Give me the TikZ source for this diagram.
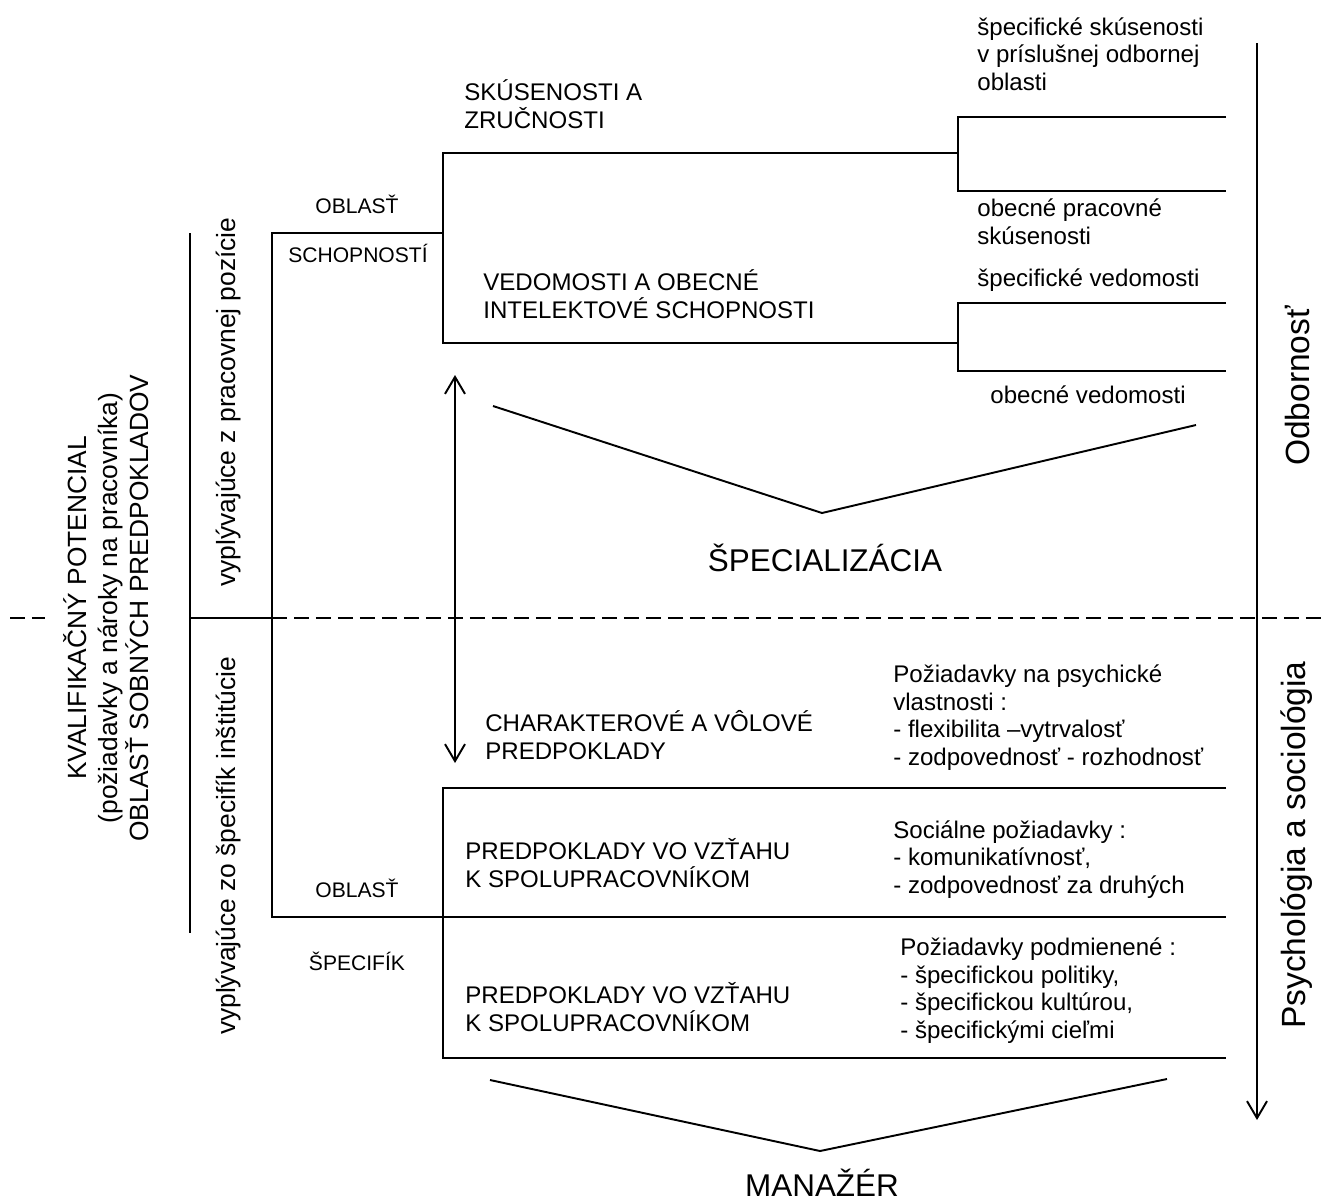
\documentclass[tikz,border=0pt]{standalone}
\usepackage{fontspec}
\setmainfont{Liberation Sans}
\usepackage{tikz}
\usetikzlibrary{arrows.meta}
\newcommand{\FontM}{\fontsize{13.7}{15.65}\selectfont}
\newcommand{\FontS}{\fontsize{12}{14}\selectfont}
\newcommand{\FontL}{\fontsize{15}{17.6}\selectfont}
\newcommand{\FontXL}{\fontsize{17.9}{21}\selectfont}
\newcommand{\FontXXL}{\fontsize{19.1}{22}\selectfont}
\tikzstyle{Edge}=[draw=black,line width=1.1pt]
\tikzstyle{EdgeDash}=[Edge,dash pattern=on 0.3cm off 0.14cm]
\tikzstyle{EdgeArrow}=[Edge,-{Straight Barb[length=0.34cm,width=0.4cm]}]
\tikzstyle{EdgeBoth}=[Edge,{Straight Barb[length=0.34cm,width=0.4cm]}-{Straight Barb[length=0.34cm,width=0.4cm]}]
\tikzstyle{NodeT}=[anchor=base west,inner sep=0pt,align=left,font=\FontM]
\tikzstyle{NodeS}=[anchor=base,inner sep=0pt,font=\FontS]
\tikzstyle{NodeV}=[rotate=90,inner sep=0pt,align=center,font=\FontL]
\tikzstyle{NodeXL}=[anchor=base,inner sep=0pt,font=\FontXL]

\begin{document}
\begin{tikzpicture}[x=0.02cm,y=-0.02cm]
            \useasboundingbox(0,0)rectangle(1324,1200);
            % corners of the brackets
            \coordinate(a1)at(272,233);
            \coordinate(a2)at(443,233);
            \coordinate(a3)at(272,917);
            \coordinate(u1)at(443,153);
            \coordinate(u2)at(443,343);
            \coordinate(u3)at(958,153);
            \coordinate(u4)at(958,343);
            \coordinate(r1)at(958,117);
            \coordinate(r2)at(958,191);
            \coordinate(r1e)at(1226,117);
            \coordinate(r2e)at(1226,191);
            \coordinate(r3)at(958,303);
            \coordinate(r4)at(958,371);
            \coordinate(r3e)at(1226,303);
            \coordinate(r4e)at(1226,371);
            \coordinate(l1)at(443,788);
            \coordinate(l1e)at(1226,788);
            \coordinate(l2e)at(1226,917);
            \coordinate(l3)at(443,1058);
            \coordinate(l3e)at(1226,1058);
            % side lines and arrows
            \coordinate(s1)at(190,233);
            \coordinate(s2)at(190,933);
            \coordinate(d0)at(10,618);
            \coordinate(d1)at(45,618);
            \coordinate(d2)at(190,618);
            \coordinate(d3)at(272,618);
            \coordinate(d4)at(1324,618);
            \coordinate(m1)at(455,375);
            \coordinate(m2)at(455,763);
            \coordinate(o1)at(1257,43);
            \coordinate(o2)at(1257,1120);
            \coordinate(v1)at(493,406);
            \coordinate(v2)at(822,513);
            \coordinate(v3)at(1196,425);
            \coordinate(w1)at(490,1080);
            \coordinate(w2)at(820,1151);
            \coordinate(w3)at(1167,1079);
            %
            \node[NodeT](sk)at(464,128){SKÚSENOSTI A\\ZRUČNOSTI};
            \node[NodeT](ve)at(483,318){VEDOMOSTI A OBECNÉ\\INTELEKTOVÉ SCHOPNOSTI};
            \node[NodeS](ob1)at(357,213){OBLASŤ};
            \node[NodeS](sch)at(358,262){SCHOPNOSTÍ};
            \node[NodeT](ss)at(977,90){špecifické skúsenosti\\v príslušnej odbornej\\oblasti};
            \node[NodeT](ops)at(977,244){obecné pracovné\\skúsenosti};
            \node[NodeT](sv)at(977,286){špecifické vedomosti};
            \node[NodeT](ov)at(990,403){obecné vedomosti};
            \node[NodeXL](spec)at(825,571){ŠPECIALIZÁCIA};
            \node[NodeT](ch)at(485,759){CHARAKTEROVÉ A VÔLOVÉ\\PREDPOKLADY};
            \node[NodeT](pp)at(893,765){Požiadavky na psychické\\vlastnosti :\\- flexibilita –vytrvalosť\\- zodpovednosť - rozhodnosť};
            \node[NodeT](pv1)at(465,887){PREDPOKLADY VO VZŤAHU\\K SPOLUPRACOVNÍKOM};
            \node[NodeT](sp)at(893,893){Sociálne požiadavky :\\- komunikatívnosť,\\- zodpovednosť za druhých};
            \node[NodeS](ob2)at(357,897){OBLASŤ};
            \node[NodeS](sf)at(357,970){ŠPECIFÍK};
            \node[NodeT](pv2)at(465,1031){PREDPOKLADY VO VZŤAHU\\K SPOLUPRACOVNÍKOM};
            \node[NodeT](pd)at(900,1038){Požiadavky podmienené :\\- špecifickou politiky,\\- špecifickou kultúrou,\\- špecifickými cieľmi};
            \node[NodeXL](man)at(822,1196){MANAŽÉR};
            \node[NodeV,font=\FontL](kv)at(106,608)
                {KVALIFIKAČNÝ POTENCIAL\\(požiadavky a nároky na pracovníka)\\OBLASŤ SOBNÝCH PREDPOKLADOV};
            \node[NodeV](vp)at(229,402){vyplývajúce z pracovnej pozície};
            \node[NodeV](vi)at(229,846){vyplývajúce zo špecifík inštitúcie};
            \node[NodeV,font=\FontXXL](odb)at(1297,386){Odbornosť};
            \node[NodeV,font=\FontXXL](ps)at(1297,845){Psychológia a sociológia};
            %
            \draw[Edge](a2)--(a1)--(a3)--(l2e);
            \draw[Edge](u3)--(u1)--(u2)--(u4);
            \draw[Edge](r1e)--(r1)--(r2)--(r2e);
            \draw[Edge](r3e)--(r3)--(r4)--(r4e);
            \draw[Edge](l1e)--(l1)--(l3)--(l3e);
            \draw[Edge](s1)--(s2);
            \draw[EdgeDash](d0)--(d1);
            \draw[Edge](d2)--(d3);
            \draw[EdgeDash](d3)--(d4);
            \draw[EdgeBoth](m1)--(m2);
            \draw[EdgeArrow](o1)--(o2);
            \draw[Edge](v1)--(v2)--(v3);
            \draw[Edge](w1)--(w2)--(w3);
\end{tikzpicture}
\end{document}
